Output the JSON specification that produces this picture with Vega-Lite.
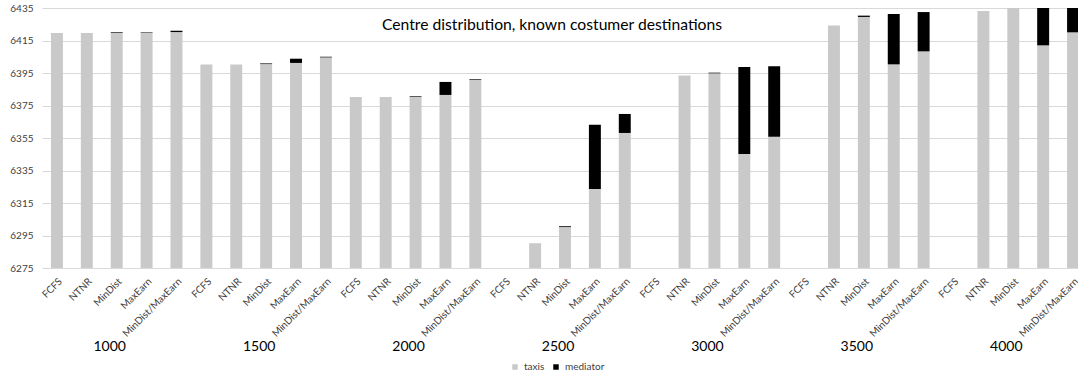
{
  "$schema": "https://vega.github.io/schema/vega-lite/v6.json",
  "autosize": "none",
  "padding": {"left": 42, "top": 8, "right": 0, "bottom": 108},
  "width": 1046,
  "height": 260,
  "background": "white",
  "config": {
    "font": "Lato",
    "view": {"stroke": null}
  },
  "title": {
    "text": "Centre distribution, known costumer destinations",
    "anchor": "middle",
    "frame": "group",
    "orient": "top",
    "offset": -31,
    "dx": -13,
    "font": "Lato",
    "fontSize": 15.7,
    "fontWeight": "normal",
    "color": "#000000"
  },
  "data": {
    "values": [
      {"group": "1000", "strategy": "FCFS", "id": "1000|FCFS", "taxis": 6419.6, "mediator": 0},
      {"group": "1000", "strategy": "NTNR", "id": "1000|NTNR", "taxis": 6419.6, "mediator": 0},
      {"group": "1000", "strategy": "MinDist", "id": "1000|MinDist", "taxis": 6419.8, "mediator": 0.4},
      {"group": "1000", "strategy": "MaxEarn", "id": "1000|MaxEarn", "taxis": 6419.8, "mediator": 0.3},
      {"group": "1000", "strategy": "MinDist/MaxEarn", "id": "1000|MinDist/MaxEarn", "taxis": 6420.2, "mediator": 0.8},
      {"group": "1500", "strategy": "FCFS", "id": "1500|FCFS", "taxis": 6400.3, "mediator": 0},
      {"group": "1500", "strategy": "NTNR", "id": "1500|NTNR", "taxis": 6400.3, "mediator": 0},
      {"group": "1500", "strategy": "MinDist", "id": "1500|MinDist", "taxis": 6400.5, "mediator": 0.4},
      {"group": "1500", "strategy": "MaxEarn", "id": "1500|MaxEarn", "taxis": 6401.2, "mediator": 2.6},
      {"group": "1500", "strategy": "MinDist/MaxEarn", "id": "1500|MinDist/MaxEarn", "taxis": 6404.6, "mediator": 0.4},
      {"group": "2000", "strategy": "FCFS", "id": "2000|FCFS", "taxis": 6380.2, "mediator": 0},
      {"group": "2000", "strategy": "NTNR", "id": "2000|NTNR", "taxis": 6380.2, "mediator": 0},
      {"group": "2000", "strategy": "MinDist", "id": "2000|MinDist", "taxis": 6380.3, "mediator": 0.4},
      {"group": "2000", "strategy": "MaxEarn", "id": "2000|MaxEarn", "taxis": 6381.5, "mediator": 8.0},
      {"group": "2000", "strategy": "MinDist/MaxEarn", "id": "2000|MinDist/MaxEarn", "taxis": 6390.9, "mediator": 0.4},
      {"group": "2500", "strategy": "FCFS", "id": "2500|FCFS", "taxis": 6270, "mediator": 0},
      {"group": "2500", "strategy": "NTNR", "id": "2500|NTNR", "taxis": 6290.2, "mediator": 0},
      {"group": "2500", "strategy": "MinDist", "id": "2500|MinDist", "taxis": 6300.2, "mediator": 0.5},
      {"group": "2500", "strategy": "MaxEarn", "id": "2500|MaxEarn", "taxis": 6323.6, "mediator": 39.6},
      {"group": "2500", "strategy": "MinDist/MaxEarn", "id": "2500|MinDist/MaxEarn", "taxis": 6358.1, "mediator": 11.7},
      {"group": "3000", "strategy": "FCFS", "id": "3000|FCFS", "taxis": 6270, "mediator": 0},
      {"group": "3000", "strategy": "NTNR", "id": "3000|NTNR", "taxis": 6393.4, "mediator": 0},
      {"group": "3000", "strategy": "MinDist", "id": "3000|MinDist", "taxis": 6394.8, "mediator": 0.4},
      {"group": "3000", "strategy": "MaxEarn", "id": "3000|MaxEarn", "taxis": 6345.2, "mediator": 53.5},
      {"group": "3000", "strategy": "MinDist/MaxEarn", "id": "3000|MinDist/MaxEarn", "taxis": 6355.8, "mediator": 43.3},
      {"group": "3500", "strategy": "FCFS", "id": "3500|FCFS", "taxis": 6270, "mediator": 0},
      {"group": "3500", "strategy": "NTNR", "id": "3500|NTNR", "taxis": 6424.3, "mediator": 0},
      {"group": "3500", "strategy": "MinDist", "id": "3500|MinDist", "taxis": 6429.5, "mediator": 0.8},
      {"group": "3500", "strategy": "MaxEarn", "id": "3500|MaxEarn", "taxis": 6400.3, "mediator": 31.0},
      {"group": "3500", "strategy": "MinDist/MaxEarn", "id": "3500|MinDist/MaxEarn", "taxis": 6408.3, "mediator": 24.2},
      {"group": "4000", "strategy": "FCFS", "id": "4000|FCFS", "taxis": 6270, "mediator": 0},
      {"group": "4000", "strategy": "NTNR", "id": "4000|NTNR", "taxis": 6433.2, "mediator": 0},
      {"group": "4000", "strategy": "MinDist", "id": "4000|MinDist", "taxis": 6438, "mediator": 0},
      {"group": "4000", "strategy": "MaxEarn", "id": "4000|MaxEarn", "taxis": 6412.0, "mediator": 28},
      {"group": "4000", "strategy": "MinDist/MaxEarn", "id": "4000|MinDist/MaxEarn", "taxis": 6420.0, "mediator": 20}
    ]
  },
  "encoding": {
    "x": {
      "field": "id",
      "type": "nominal",
      "sort": null,
      "scale": {"paddingInner": 0.6, "paddingOuter": 0.3},
      "axis": {
        "title": null,
        "labelAngle": -45,
        "labelExpr": "split(datum.value, '|')[1]",
        "labelFont": "Lato",
        "labelFontSize": 10,
        "labelColor": "#404040",
        "labelPadding": 8,
        "ticks": false,
        "domain": false,
        "grid": false
      }
    }
  },
  "layer": [
    {
      "transform": [{"fold": ["taxis", "mediator"], "as": ["series", "amount"]}],
      "mark": {"type": "bar", "clip": true},
      "encoding": {
        "y": {
          "field": "amount",
          "type": "quantitative",
          "stack": "zero",
          "title": null,
          "scale": {"domain": [6275, 6435], "nice": false, "zero": false},
          "axis": {
            "title": null,
            "values": [6275, 6295, 6315, 6335, 6355, 6375, 6395, 6415, 6435],
            "format": "d",
            "labelFont": "Lato",
            "labelFontSize": 10,
            "labelColor": "#404040",
            "labelPadding": 9,
            "labelOverlap": false,
            "ticks": false,
            "domain": false,
            "gridColor": "#d9d9d9",
            "gridWidth": 1
          }
        },
        "color": {
          "field": "series",
          "type": "nominal",
          "scale": {"domain": ["taxis", "mediator"], "range": ["#c9c9c9", "#000000"]},
          "legend": {
            "title": null,
            "orient": "none",
            "direction": "horizontal",
            "legendX": 468,
            "legendY": 354,
            "symbolType": "square",
            "symbolSize": 30,
            "symbolStrokeWidth": 0,
            "labelFont": "Lato",
            "labelFontSize": 10,
            "labelColor": "#404040",
            "labelOffset": 4,
            "columnPadding": 6
          }
        },
        "order": {"field": "series", "sort": "descending"}
      }
    },
    {
      "transform": [{"filter": "datum.strategy === 'MinDist'"}],
      "mark": {"type": "text", "dx": -7, "fontSize": 14, "font": "Lato", "color": "#000000", "baseline": "middle", "align": "center"},
      "encoding": {
        "y": {
          "datum": 6226.5,
          "type": "quantitative",
          "title": null,
          "axis": {
            "title": null,
            "values": [6275, 6295, 6315, 6335, 6355, 6375, 6395, 6415, 6435],
            "format": "d",
            "labelFont": "Lato",
            "labelFontSize": 10,
            "labelColor": "#404040",
            "labelPadding": 9,
            "labelOverlap": false,
            "ticks": false,
            "domain": false,
            "gridColor": "#d9d9d9",
            "gridWidth": 1
          }
        },
        "text": {"field": "group"}
      }
    }
  ]
}
